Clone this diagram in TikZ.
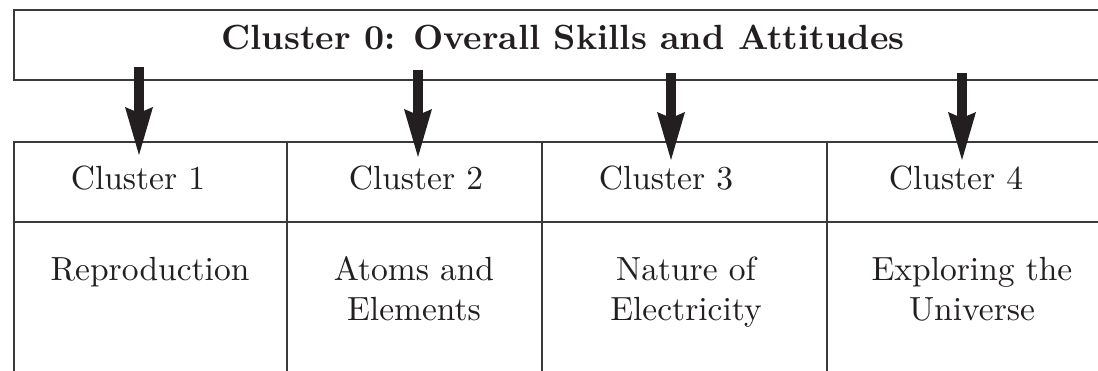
\documentclass[tikz,border=0pt]{standalone}
\usepackage{fontspec}
\setmainfont{lmroman10-regular}[Extension=.otf, BoldFont=lmroman10-bold]
\usepackage{tikz}
\usetikzlibrary{arrows.meta}
\definecolor{ink}{HTML}{231F20}
\definecolor{rule}{HTML}{3A3A3A}
\tikzset{
  frame/.style={draw=rule, line width=1.3pt},
  push/.style={draw=ink, line width=10pt, -{Stealth[length=48pt,width=28pt,inset=6pt,line width=0pt]}},
  head/.style={text=ink, font=\fontsize{35}{40}\selectfont\bfseries, inner sep=0pt},
  lab/.style={text=ink, font=\fontsize{33.5}{40}\selectfont, align=center, inner sep=0pt},
}

\begin{document}
\begin{tikzpicture}[x=1pt,y=1pt]
  \clip (0,0) rectangle (1098,370);
  % top banner
  \draw[frame] (1110,290) -| (14,360) -- (1110,360);
  \node[head,anchor=base] (title) at (563,320) {Cluster 0: Overall Skills and Attitudes};
  % table
  \draw[frame] (1110,228) -| (14,-10);
  \draw[frame] (14,148) -- (1110,148);
  \draw[frame] (287,228) -- (287,-10);
  \draw[frame] (542,228) -- (542,-10);
  \draw[frame] (827,228) -- (827,-10);
  \node[lab,anchor=base] (h1) at (138,180) {Cluster 1};
  \node[lab,anchor=base] (h2) at (416,180) {Cluster 2};
  \node[lab,anchor=base] (h3) at (666,180) {Cluster 3};
  \node[lab,anchor=base] (h4) at (956,180) {Cluster 4};
  % two-line labels sit on their last baseline
  \node[lab,anchor=base] (t1) at (150,90) {Reproduction};
  \node[lab,anchor=base] (t2) at (414,50) {Atoms and\\Elements};
  \node[lab,anchor=base] (t3) at (686,50) {Nature of\\Electricity};
  \node[lab,anchor=base] (t4) at (972,50) {Exploring the\\Universe};
  % arrows
  \coordinate (s1) at (139,303);
  \coordinate (e1) at (139,215);
  \coordinate (s2) at (418,300);
  \coordinate (e2) at (418,213);
  \coordinate (s3) at (671,297);
  \coordinate (e3) at (671,210);
  \coordinate (s4) at (962,297);
  \coordinate (e4) at (962,210);
  \draw[push] (s1) -- (e1);
  \draw[push] (s2) -- (e2);
  \draw[push] (s3) -- (e3);
  \draw[push] (s4) -- (e4);
\end{tikzpicture}
\end{document}
